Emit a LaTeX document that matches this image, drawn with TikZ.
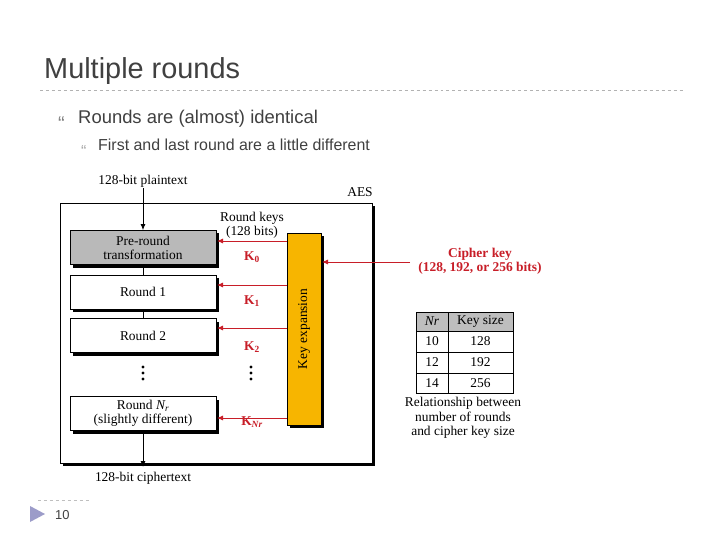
\documentclass[tikz,border=0pt]{standalone}
\usepackage{fontspec}
\setmainfont{Liberation Serif}
\newfontfamily\slidefont{Liberation Sans}
\usetikzlibrary{arrows.meta}
\definecolor{txt}{RGB}{64,64,64}
\definecolor{kred}{RGB}{200,30,40}
\definecolor{korange}{RGB}{247,181,0}
\definecolor{tgray}{RGB}{190,190,190}
\tikzset{
 rbox/.style={draw,thick,minimum width=146bp,minimum height=34bp,inner sep=0pt,font=\fontsize{13.5}{14}\selectfont,align=center,fill=white},
 keyarr/.style={draw=kred,thick,-{Latex[length=6bp,width=5bp]}},
 klab/.style={text=kred,font=\bfseries\fontsize{13.5}{14}\selectfont},
 flow/.style={thick,-{Latex[length=6bp,width=5bp]}},
 dl/.style={font=\fontsize{13.5}{14.5}\selectfont,align=center,inner sep=0pt},
 cell/.style={font=\fontsize{13.5}{14}\selectfont,inner sep=0pt},
 dot/.style={circle,fill,inner sep=0pt,minimum size=3.2bp}
}
\begin{document}
\begin{tikzpicture}[x=1bp,y=-1bp]
\useasboundingbox (0,0) rectangle (720,540);
\fill[white] (0,0) rectangle (720,540);
% slide
\node[anchor=base west,inner sep=0pt,text=txt,font=\slidefont\fontsize{29}{30}\selectfont] (title) at (44,79) {Multiple rounds};
\draw[gray!60,dashed] (40,90) -- (685,90);
\node[anchor=base west,inner sep=0pt,text=gray,font=\slidefont\fontsize{20}{20}\selectfont] (b1) at (58,131) {“};
\node[anchor=base west,inner sep=0pt,text=txt,font=\slidefont\fontsize{18.5}{20}\selectfont] (l1) at (78,124) {Rounds are (almost) identical};
\node[anchor=base west,inner sep=0pt,text=gray!70,font=\slidefont\fontsize{16}{16}\selectfont] (b2) at (81,157) {“};
\node[anchor=base west,inner sep=0pt,text=txt,font=\slidefont\fontsize{16}{18}\selectfont] (l2) at (98,151) {First and last round are a little different};
\draw[gray!50,dashed] (38,500) -- (90,500);
\fill[blue!30!gray!60] (30,506) -- (45,514) -- (30,522) -- cycle;
\node[anchor=base west,inner sep=0pt,text=txt,font=\slidefont\fontsize{13}{14}\selectfont] (pg) at (55,519) {10};
% AES frame
\fill (63,206) rectangle (375,466);
\draw[fill=white] (60,203) rectangle (372,463);
\node[dl,anchor=base] (aes) at (360,197) {AES};
% shadows of round boxes
\foreach \y in {247.5,292,335.5,413.5}{
  \fill (73,\y-14) rectangle (219,\y+20);
}
\node[rbox,fill=gray!55] (pre) at (143,247.5) {Pre-round\\transformation};
\node[rbox] (r1) at (143,292) {Round 1};
\node[rbox] (r2) at (143,335.5) {Round 2};
\node[rbox] (rn) at (143,413.5) {Round \textit{N\textsubscript{r}}\\(slightly different)};
\draw[thick] (pre) -- (r1);
\draw[thick] (r1) -- (r2);
\node[dot] (d1) at (143,367) {};
\node[dot] (d2) at (143,373) {};
\node[dot] (d3) at (143,379) {};
\node[dl,anchor=base] (pt) at (143,185) {128-bit plaintext};
\node[dl,anchor=base] (ct) at (143,481) {128-bit ciphertext};
\draw[flow] (pt.south) -- (pre.north);
\coordinate (ctin) at (143,467);
\draw[flow] (rn.south) -- (ctin);
% key expansion
\fill (290,236) rectangle (324,428);
\draw[fill=korange] (287,233) rectangle (321,425);
\node[dl,rotate=90] (ke) at (304,329) {Key expansion};
\node[dl] (rk) at (252,225) {Round keys\\(128 bits)};
\foreach \y/\k/\ly in {241/{K\textsubscript{0}}/257,285/{K\textsubscript{1}}/301,328/{K\textsubscript{2}}/347,418/{K\textsubscript{\textit{Nr}}}/422}{
  \draw[keyarr] (287,\y) -- (217,\y);
  \node[klab] at (252,\ly) {\k};
}
\node[dot] (e1) at (251,367) {};
\node[dot] (e2) at (251,373) {};
\node[dot] (e3) at (251,379) {};
\node[dl,text=kred,font=\bfseries\fontsize{13.5}{14.5}\selectfont] (ck) at (480,261) {Cipher key\\(128, 192, or 256 bits)};
\coordinate (ckin) at (410,262);
\draw[keyarr] (ckin) -- (322,262);
% table
\fill[tgray] (416,312) rectangle (513,331);
\draw[thick] (416,312) rectangle (513,393);
\draw (448,312) -- (448,393);
\draw (416,331) -- (513,331);
\draw[thick] (416,352) -- (513,352);
\draw (416,373) -- (513,373);
\node[cell] at (432,321.5) {\textit{Nr}};
\node[cell] at (480.5,321.5) {Key size};
\node[cell] at (432,341.5) {10};
\node[cell] at (480.5,341.5) {128};
\node[cell] at (432,362.5) {12};
\node[cell] at (480.5,362.5) {192};
\node[cell] at (432,383) {14};
\node[cell] at (480.5,383) {256};
\node[dl] (cap) at (463,418) {Relationship between\\number of rounds\\and cipher key size};
\end{tikzpicture}
\end{document}
